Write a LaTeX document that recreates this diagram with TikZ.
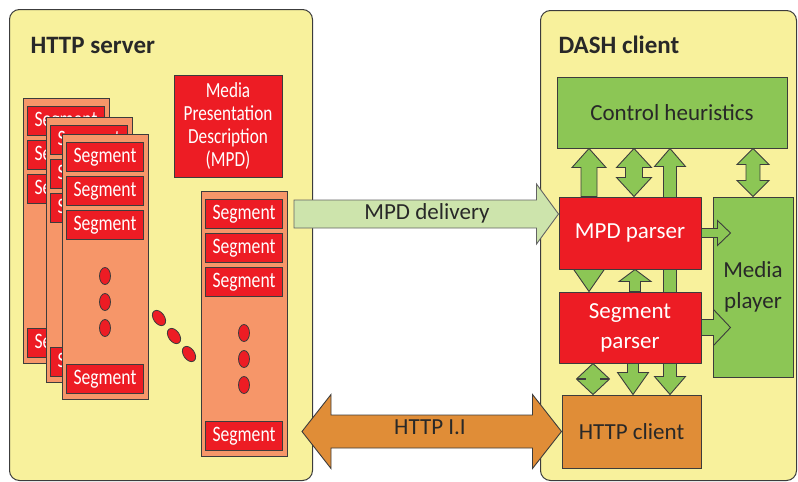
\documentclass[tikz,border=0pt]{standalone}
\usepackage{fontspec}
\setmainfont{Carlito}
\newfontfamily\narrowfont[FakeStretch=0.8]{Carlito}
\usetikzlibrary{calc,positioning,shapes.geometric}
\pgfdeclarelayer{back}
\pgfdeclarelayer{mid}
\pgfsetlayers{back,mid,main}

\definecolor{panelyellow}{RGB}{248,241,156}
\definecolor{segred}{RGB}{237,28,36}
\definecolor{salmon}{RGB}{246,150,105}
\definecolor{palegreen}{RGB}{205,228,172}
\definecolor{leafgreen}{RGB}{140,198,85}
\definecolor{httporange}{RGB}{224,141,55}
\definecolor{edge}{RGB}{60,60,60}
\definecolor{ink}{RGB}{40,40,40}

% block arrow: style, tail, tip, half body, half head, head length
\newcommand{\blockarrow}[6]{%
  \path (#2) coordinate (ba0) (#3) coordinate (ba1) ($(ba1)!#6!(ba0)$) coordinate (ba2);
  \draw[#1] ($(ba0)!#4!90:(ba1)$) -- ($(ba2)!#4!90:(ba1)$) -- ($(ba2)!#5!90:(ba1)$) -- (ba1)
    -- ($(ba2)!#5!-90:(ba1)$) -- ($(ba2)!#4!-90:(ba1)$) -- ($(ba0)!#4!-90:(ba1)$) -- cycle;
}
% same with a head at both ends
\newcommand{\dblockarrow}[6]{%
  \path (#2) coordinate (ba0) (#3) coordinate (ba1) ($(ba1)!#6!(ba0)$) coordinate (ba2)
    ($(ba0)!#6!(ba1)$) coordinate (ba3);
  \draw[#1] (ba0) -- ($(ba3)!#5!90:(ba1)$) -- ($(ba3)!#4!90:(ba1)$) -- ($(ba2)!#4!90:(ba1)$)
    -- ($(ba2)!#5!90:(ba1)$) -- (ba1) -- ($(ba2)!#5!-90:(ba1)$) -- ($(ba2)!#4!-90:(ba1)$)
    -- ($(ba3)!#4!-90:(ba1)$) -- ($(ba3)!#5!-90:(ba1)$) -- cycle;
}

\begin{document}
\begin{tikzpicture}[x=1pt,y=-1pt,line join=round,font=\fontsize{23}{28}\selectfont]
	\tikzset{
		box/.style={draw=edge, line width=1pt, inner sep=0pt, align=center},
		panel/.style={box, fill=panelyellow, rounded corners=10pt, anchor=north west},
		title/.style={anchor=west, text=ink, font=\fontsize{25}{30}\selectfont\bfseries},
		redbox/.style={box, fill=segred, text=white},
		greenbox/.style={box, fill=leafgreen, text=ink},
		seg/.style={redbox, minimum width=77pt, minimum height=29pt, anchor=north,
			font=\narrowfont\fontsize{22}{24}\selectfont},
		dot/.style={ellipse, draw=edge, line width=.8pt, fill=segred, inner sep=0pt,
			minimum width=11pt, minimum height=17pt},
		flow/.style={draw=edge, line width=.9pt, fill=leafgreen},
		segcol/.pic={
			\node[box, fill=salmon, minimum width=86pt, minimum height=265pt, anchor=north west] (-box) at (0,0) {};
			\node[seg] (-s1) at (43,8) {Segment};
			\node[seg] (-s2) at (43,42) {Segment};
			\node[seg] (-s3) at (43,76) {Segment};
			\node[seg] (-sn) at (43,230) {Segment};
			\foreach \i/\yy in {1/142,2/168,3/194}
				\node[dot] (-d\i) at (43,\yy) {};
		}
	}
	\useasboundingbox (0,0) rectangle (798,482);

	\begin{pgfonlayer}{back}
		% server side
		\node[panel, minimum width=303pt, minimum height=471pt] (server) at (9,9) {};
		\node[title] (servertitle) at (27,45) {HTTP server};
		\node[redbox, minimum width=108pt, minimum height=102pt,
			font=\narrowfont\fontsize{21.5}{22.7}\selectfont] (mpd) at (228,126)
			{Media\\Presentation\\Description\\(MPD)};
		\pic (colA) at (23,98) {segcol};
		\pic (colB) at (46,117) {segcol};
		\pic (colC) at (62,134) {segcol};
		\pic (colD) at (201,191) {segcol};
		\foreach \i/\xx/\yy in {1/159/318,2/174/336,3/189/354}
			\node[dot, rotate=35] (more\i) at (\xx,\yy) {};

		% client side
		\node[panel, minimum width=256pt, minimum height=470pt] (client) at (540,10) {};
		\node[title] (clienttitle) at (555,45) {DASH client};
		\node[greenbox, minimum width=230pt, minimum height=71pt] (ctrl) at (672,112.5) {Control heuristics};
		\node[greenbox, minimum width=80pt, minimum height=180pt, font=\fontsize{23}{31}\selectfont] (player) at (753,287) {Media\\player};
		\node[box, fill=httporange, text=ink, minimum width=139pt, minimum height=73pt] (httpc) at (631.5,431.5) {HTTP client};
	\end{pgfonlayer}

	\node[redbox, minimum width=142pt, minimum height=72pt] (mpdp) at (630,233) {MPD parser};
	\node[redbox, minimum width=142pt, minimum height=71pt, font=\fontsize{23}{30}\selectfont] (segp) at (630,327.5) {Segment\\parser};

	\begin{pgfonlayer}{mid}
		% between server and client
		\blockarrow{draw=edge!80, line width=.9pt, fill=palegreen}
			{[xshift=6pt]colD-box.east |- colD-s1}{mpdp.west |- colD-s1}{14pt}{30pt}{22pt}
		\dblockarrow{draw=edge, line width=.9pt, fill=httporange}
			{[xshift=14pt]colD-box.east |- httpc.west}{httpc.west}{16.5pt}{37pt}{29pt}
		\node[text=ink] (delivery) at (427,213) {MPD delivery};
		\node[text=ink] (http) at (430,427) {HTTP I.I};

		% inside the client
		\blockarrow{flow}{589,0 |- mpdp.north}{589,0 |- ctrl.south}{8pt}{17pt}{19pt}
		\dblockarrow{flow}{634,0 |- mpdp.north}{634,0 |- ctrl.south}{8.5pt}{17.5pt}{19pt}
		\dblockarrow{flow}{670,0 |- httpc.north}{670,0 |- ctrl.south}{6.5pt}{15.5pt}{18pt}
		\dblockarrow{flow}{753,0 |- player.north}{753,0 |- ctrl.south}{7pt}{16pt}{16pt}
		\blockarrow{flow}{589,0 |- mpdp.south}{589,0 |- segp.north}{8pt}{16pt}{23pt}
		\blockarrow{flow}{635,0 |- segp.north}{635,0 |- mpdp.south}{5.5pt}{16pt}{12pt}
		\dblockarrow{flow}{593,0 |- segp.south}{593,0 |- httpc.north}{7.5pt}{16pt}{15pt}
		\blockarrow{flow}{633,0 |- segp.south}{633,0 |- httpc.north}{5.5pt}{15.5pt}{22pt}
		\blockarrow{flow}{mpdp.east}{[xshift=18pt]player.west |- mpdp.east}{4.5pt}{12.5pt}{13pt}
		\blockarrow{flow}{segp.east}{[xshift=18pt]player.west |- segp.east}{8pt}{18pt}{17pt}
	\end{pgfonlayer}
\end{tikzpicture}
\end{document}
